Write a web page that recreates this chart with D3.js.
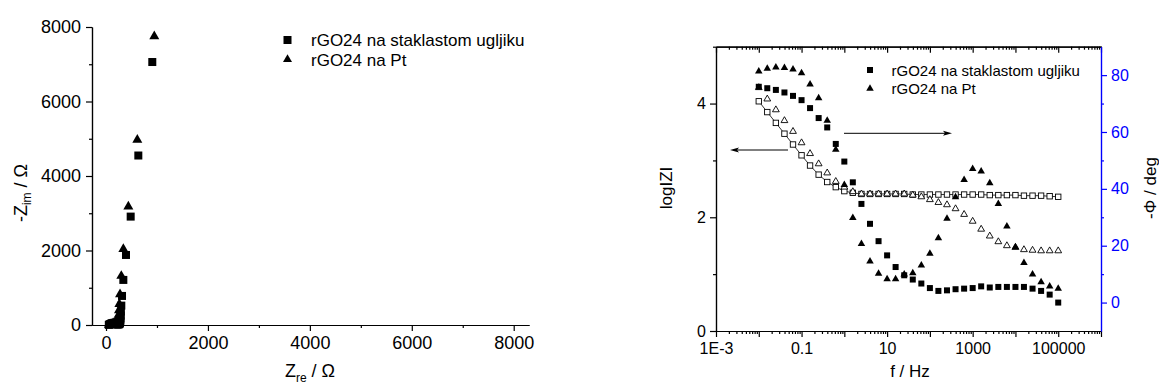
<!DOCTYPE html>
<html>
<head>
<meta charset="utf-8">
<script src="https://cdn.jsdelivr.net/npm/d3@7"></script>
<style>
  body { margin: 0; background: #fff; }
  svg { font-family: "Liberation Sans", Arial, sans-serif; }
</style>
</head>
<body>
<svg id="chart" width="1159" height="387"></svg>
<script>
// ---- data ----
// Nyquist, rGO24 na staklastom ugljiku (squares)
var nyqSqRe = [908, 634, 484, 392, 340, 314, 300, 292, 287, 284, 281, 278, 274, 268, 258, 242, 222, 198, 172, 148, 124, 102, 82, 66, 55];
var nyqSqIm = [7060, 4550, 2910, 1880, 1210, 780, 520, 360, 250, 175, 120, 82, 55, 36, 22, 14, 12, 20, 32, 44, 48, 40, 26, 12, 4];
// Nyquist, rGO24 na Pt (triangles)
var nyqTrRe = [947, 614, 438, 340, 300, 275, 262, 254, 248, 240, 228, 212, 192, 170, 146, 122, 98, 76, 56];
var nyqTrIm = [7750, 4972, 3180, 2040, 1317, 825, 560, 390, 270, 190, 130, 90, 68, 56, 48, 38, 24, 12, 4];

// Bode
var freq = [0.01, 0.0158, 0.0251, 0.0398, 0.0631, 0.1, 0.158, 0.251, 0.398, 0.631,
            1, 1.58, 2.51, 3.98, 6.31, 10, 15.8, 25.1, 39.8, 63.1,
            100, 158, 251, 398, 631, 1000, 1580, 2510, 3980, 6310,
            10000, 15800, 25100, 39800, 63100, 100000];
var phaseGC = [75.9, 75.4, 74.8, 73.9, 72.7, 71.2, 68.4, 64.9, 61.6, 55.8,
               49.6, 42.3, 34.7, 27.7, 21.6, 16.6, 12.5, 9.6, 8.1, 6.7,
               5.1, 4.1, 4.3, 4.7, 4.9, 5.1, 5.7, 5.3, 5.5, 5.5,
               5.5, 5.5, 4.9, 4.1, 2.8, 0.0];
var phasePt = [81.3, 82.3, 82.7, 82.6, 82.0, 80.7, 76.8, 71.9, 64.0, 53.8,
               41.4, 29.8, 20.7, 14.5, 10.2, 8.3, 8.3, 9.9, 10.4, 13.1,
               17.2, 22.7, 29.5, 37.1, 43.2, 47.0, 46.2, 42.0, 34.7, 26.8,
               19.5, 14.0, 9.9, 7.2, 5.7, 4.9];
var logZGC = [4.04, 3.85, 3.66, 3.47, 3.28, 3.09, 2.91, 2.75, 2.62, 2.53,
              2.46, 2.43, 2.41, 2.41, 2.41, 2.41, 2.41, 2.41, 2.40, 2.40,
              2.40, 2.40, 2.40, 2.40, 2.40, 2.40, 2.40, 2.39, 2.39, 2.39,
              2.39, 2.38, 2.38, 2.38, 2.37, 2.36];
var logZPt = [4.28, 4.08, 3.89, 3.70, 3.51, 3.31, 3.12, 2.94, 2.78, 2.63,
              2.53, 2.45, 2.41, 2.41, 2.41, 2.41, 2.41, 2.41, 2.39, 2.36,
              2.31, 2.26, 2.22, 2.15, 2.05, 1.93, 1.79, 1.67, 1.57, 1.50,
              1.47, 1.43, 1.42, 1.41, 1.41, 1.41];

var seriesNames = ["rGO24 na staklastom ugljiku", "rGO24 na Pt"];
var nyqXTicks = [0, 2000, 4000, 6000, 8000];
var nyqYTicks = [0, 2000, 4000, 6000, 8000];
var bodeXTicks = [1e-3, 0.1, 10, 1000, 100000];
var bodeXLabels = ["1E-3", "0.1", "10", "1000", "100000"];
var logZTicks = [0, 2, 4];
var phaseTicks = [0, 20, 40, 60, 80];

var svg = d3.select("#chart");
svg.append("rect").attr("width", 1159).attr("height", 387).attr("fill", "#fff");

function tri(side) {
    return d3.symbol(d3.symbolTriangle, side * side * 0.433)();
}
function styleAxis(g, color, fs) {
    g.selectAll("path").attr("stroke", color).attr("stroke-width", 1.2);
    g.selectAll("line").attr("stroke", color).attr("stroke-width", 1.2);
    g.selectAll("text").attr("fill", color).style("font-size", fs + "px")
        .style("font-family", "'Liberation Sans', Arial, sans-serif");
}

// ================= left: Nyquist =================
var xL = d3.scaleLinear().domain([-275, 8300]).range([92, 529]);
var yL = d3.scaleLinear().domain([0, 8000]).range([325, 27]);

var gxL = svg.append("g").attr("transform", "translate(0,325)")
    .call(d3.axisBottom(xL).tickValues([1000, 3000, 5000, 7000]).tickSize(3).tickSizeOuter(0).tickFormat(""));
styleAxis(gxL, "#000", 18);
gxL = svg.append("g").attr("transform", "translate(0,325)")
    .call(d3.axisBottom(xL).tickValues(nyqXTicks).tickSize(6).tickPadding(5).tickSizeOuter(0).tickFormat(d3.format("d")));
styleAxis(gxL, "#000", 18);

var gyL = svg.append("g").attr("transform", "translate(92,0)")
    .call(d3.axisLeft(yL).tickValues([1000, 3000, 5000, 7000]).tickSize(3).tickSizeOuter(0).tickFormat(""));
styleAxis(gyL, "#000", 18);
gyL = svg.append("g").attr("transform", "translate(92,0)")
    .call(d3.axisLeft(yL).tickValues(nyqYTicks).tickSize(6).tickPadding(5).tickSizeOuter(0).tickFormat(d3.format("d")));
styleAxis(gyL, "#000", 18);

// axis titles
var tY = svg.append("text").attr("transform", "translate(27,193) rotate(-90)")
    .attr("text-anchor", "middle").style("font-size", "18px");
tY.append("tspan").text("-Z");
tY.append("tspan").attr("dy", 4).style("font-size", "12px").text("im");
tY.append("tspan").attr("dy", -4).text(" / Ω");
var tX = svg.append("text").attr("x", 310).attr("y", 377)
    .attr("text-anchor", "middle").style("font-size", "18px");
tX.append("tspan").text("Z");
tX.append("tspan").attr("dy", 5).style("font-size", "12px").text("re");
tX.append("tspan").attr("dy", -5).text(" / Ω");

var nyqSq = nyqSqRe.map((d, i) => ({ x: d, y: nyqSqIm[i] }));
var nyqTr = nyqTrRe.map((d, i) => ({ x: d, y: nyqTrIm[i] }));
svg.append("g").selectAll("rect").data(nyqSq).join("rect")
    .attr("x", d => xL(d.x) - 4).attr("y", d => yL(d.y) - 4)
    .attr("width", 8).attr("height", 8).attr("fill", "#000");
svg.append("g").selectAll("path").data(nyqTr).join("path")
    .attr("d", tri(10)).attr("transform", d => `translate(${xL(d.x)},${yL(d.y)})`)
    .attr("fill", "#000");

// legend left
svg.append("rect").attr("x", 283.5).attr("y", 36).attr("width", 8).attr("height", 8).attr("fill", "#000");
svg.append("path").attr("d", tri(9)).attr("transform", "translate(287.5,59.5)").attr("fill", "#000");
svg.append("text").attr("x", 311).attr("y", 45.5).style("font-size", "17px").text(seriesNames[0]);
svg.append("text").attr("x", 311).attr("y", 65.5).style("font-size", "17px").text(seriesNames[1]);

// ================= right: Bode =================
var xR = d3.scaleLog().domain([1e-3, 1e6]).range([716, 1101]);
var yZ = d3.scaleLinear().domain([0, 5]).range([331, 46.7]);
var yP = d3.scaleLinear().domain([-10, 90]).range([331, 46.7]);

var decades = [1e-3, 1e-2, 1e-1, 1, 10, 100, 1e3, 1e4, 1e5, 1e6];
var minorF = [];
decades.slice(0, -1).forEach(d => { for (var m = 2; m <= 9; m++) minorF.push(d * m); });

// bottom
var gb = svg.append("g").attr("transform", "translate(0,331)")
    .call(d3.axisBottom(xR).tickValues(minorF).tickSize(3).tickSizeOuter(0).tickFormat(""));
styleAxis(gb, "#000", 16);
gb = svg.append("g").attr("transform", "translate(0,331)")
    .call(d3.axisBottom(xR).tickValues(decades).tickSize(6).tickPadding(6).tickSizeOuter(0)
        .tickFormat(d => { var i = bodeXTicks.indexOf(d); return i < 0 ? "" : bodeXLabels[i]; }));
styleAxis(gb, "#000", 16);
// top (mirror, inward)
var gt = svg.append("g").attr("transform", "translate(0,46.7)")
    .call(d3.axisBottom(xR).tickValues(minorF).tickSize(3).tickSizeOuter(0).tickFormat(""));
styleAxis(gt, "#000", 16);
gt = svg.append("g").attr("transform", "translate(0,46.7)")
    .call(d3.axisBottom(xR).tickValues(decades).tickSize(6).tickSizeOuter(0).tickFormat(""));
styleAxis(gt, "#000", 16);
// left logIZI
var gl = svg.append("g").attr("transform", "translate(716,0)")
    .call(d3.axisLeft(yZ).tickValues([1, 3, 5]).tickSize(3).tickSizeOuter(0).tickFormat(""));
styleAxis(gl, "#000", 16);
gl = svg.append("g").attr("transform", "translate(716,0)")
    .call(d3.axisLeft(yZ).tickValues(logZTicks).tickSize(6).tickPadding(4).tickSizeOuter(0).tickFormat(d3.format("d")));
styleAxis(gl, "#000", 16);
// right phase (blue)
var gr = svg.append("g").attr("transform", "translate(1101,0)")
    .call(d3.axisRight(yP).tickValues([10, 30, 50, 70]).tickSize(3).tickSizeOuter(0).tickFormat(""));
styleAxis(gr, "#0000ff", 16);
gr = svg.append("g").attr("transform", "translate(1101,0)")
    .call(d3.axisRight(yP).tickValues(phaseTicks).tickSize(6).tickPadding(4).tickSizeOuter(0).tickFormat(d3.format("d")));
styleAxis(gr, "#0000ff", 16);

svg.append("text").attr("transform", "translate(672,188) rotate(-90)")
    .attr("text-anchor", "middle").style("font-size", "17px").text("logIZI");
svg.append("text").attr("transform", "translate(1156,188) rotate(-90)")
    .attr("text-anchor", "middle").style("font-size", "17px").text("-Φ / deg");
svg.append("text").attr("x", 910).attr("y", 377)
    .attr("text-anchor", "middle").style("font-size", "17px").text("f / Hz");

var bode = freq.map((f, i) => ({ f: f, pGC: phaseGC[i], pPt: phasePt[i], zGC: logZGC[i], zPt: logZPt[i] }));

// open squares joined by thin line (logIZI, glassy carbon)
svg.append("path").datum(bode)
    .attr("d", d3.line().x(d => xR(d.f)).y(d => yZ(d.zGC)))
    .attr("fill", "none").attr("stroke", "#000").attr("stroke-width", 0.8);
svg.append("g").selectAll("rect").data(bode).join("rect")
    .attr("x", d => xR(d.f) - 2.7).attr("y", d => yZ(d.zGC) - 2.7)
    .attr("width", 5.4).attr("height", 5.4)
    .attr("fill", "#fff").attr("stroke", "#000").attr("stroke-width", 0.9);
svg.append("g").selectAll("path").data(bode).join("path")
    .attr("d", tri(6.8)).attr("transform", d => `translate(${xR(d.f)},${yZ(d.zPt)})`)
    .attr("fill", "#fff").attr("stroke", "#000").attr("stroke-width", 0.9);
// filled: phase
svg.append("g").selectAll("rect").data(bode).join("rect")
    .attr("x", d => xR(d.f) - 3).attr("y", d => yP(d.pGC) - 3)
    .attr("width", 6).attr("height", 6).attr("fill", "#000");
svg.append("g").selectAll("path").data(bode).join("path")
    .attr("d", tri(7.5)).attr("transform", d => `translate(${xR(d.f)},${yP(d.pPt)})`)
    .attr("fill", "#000");

// arrows pointing to the axis each group belongs to
function arrow(x1, x2, y) {
    var dir = x2 > x1 ? 1 : -1;
    svg.append("line").attr("x1", x1).attr("x2", x2 - dir * 6).attr("y1", y).attr("y2", y)
        .attr("stroke", "#000").attr("stroke-width", 1);
    svg.append("path")
        .attr("d", `M${x2},${y} L${x2 - dir * 9},${y - 2.5} L${x2 - dir * 7},${y} L${x2 - dir * 9},${y + 2.5} Z`)
        .attr("fill", "#000");
}
arrow(788, 730, 150);
arrow(844, 952, 133.3);

// legend right
svg.append("rect").attr("x", 867).attr("y", 67).attr("width", 6).attr("height", 6).attr("fill", "#000");
svg.append("path").attr("d", tri(7.5)).attr("transform", "translate(870,88.5)").attr("fill", "#000");
svg.append("text").attr("x", 891.5).attr("y", 75.5).style("font-size", "15px").text(seriesNames[0]);
svg.append("text").attr("x", 891.5).attr("y", 93.5).style("font-size", "15px").text(seriesNames[1]);
</script>
</body>
</html>
